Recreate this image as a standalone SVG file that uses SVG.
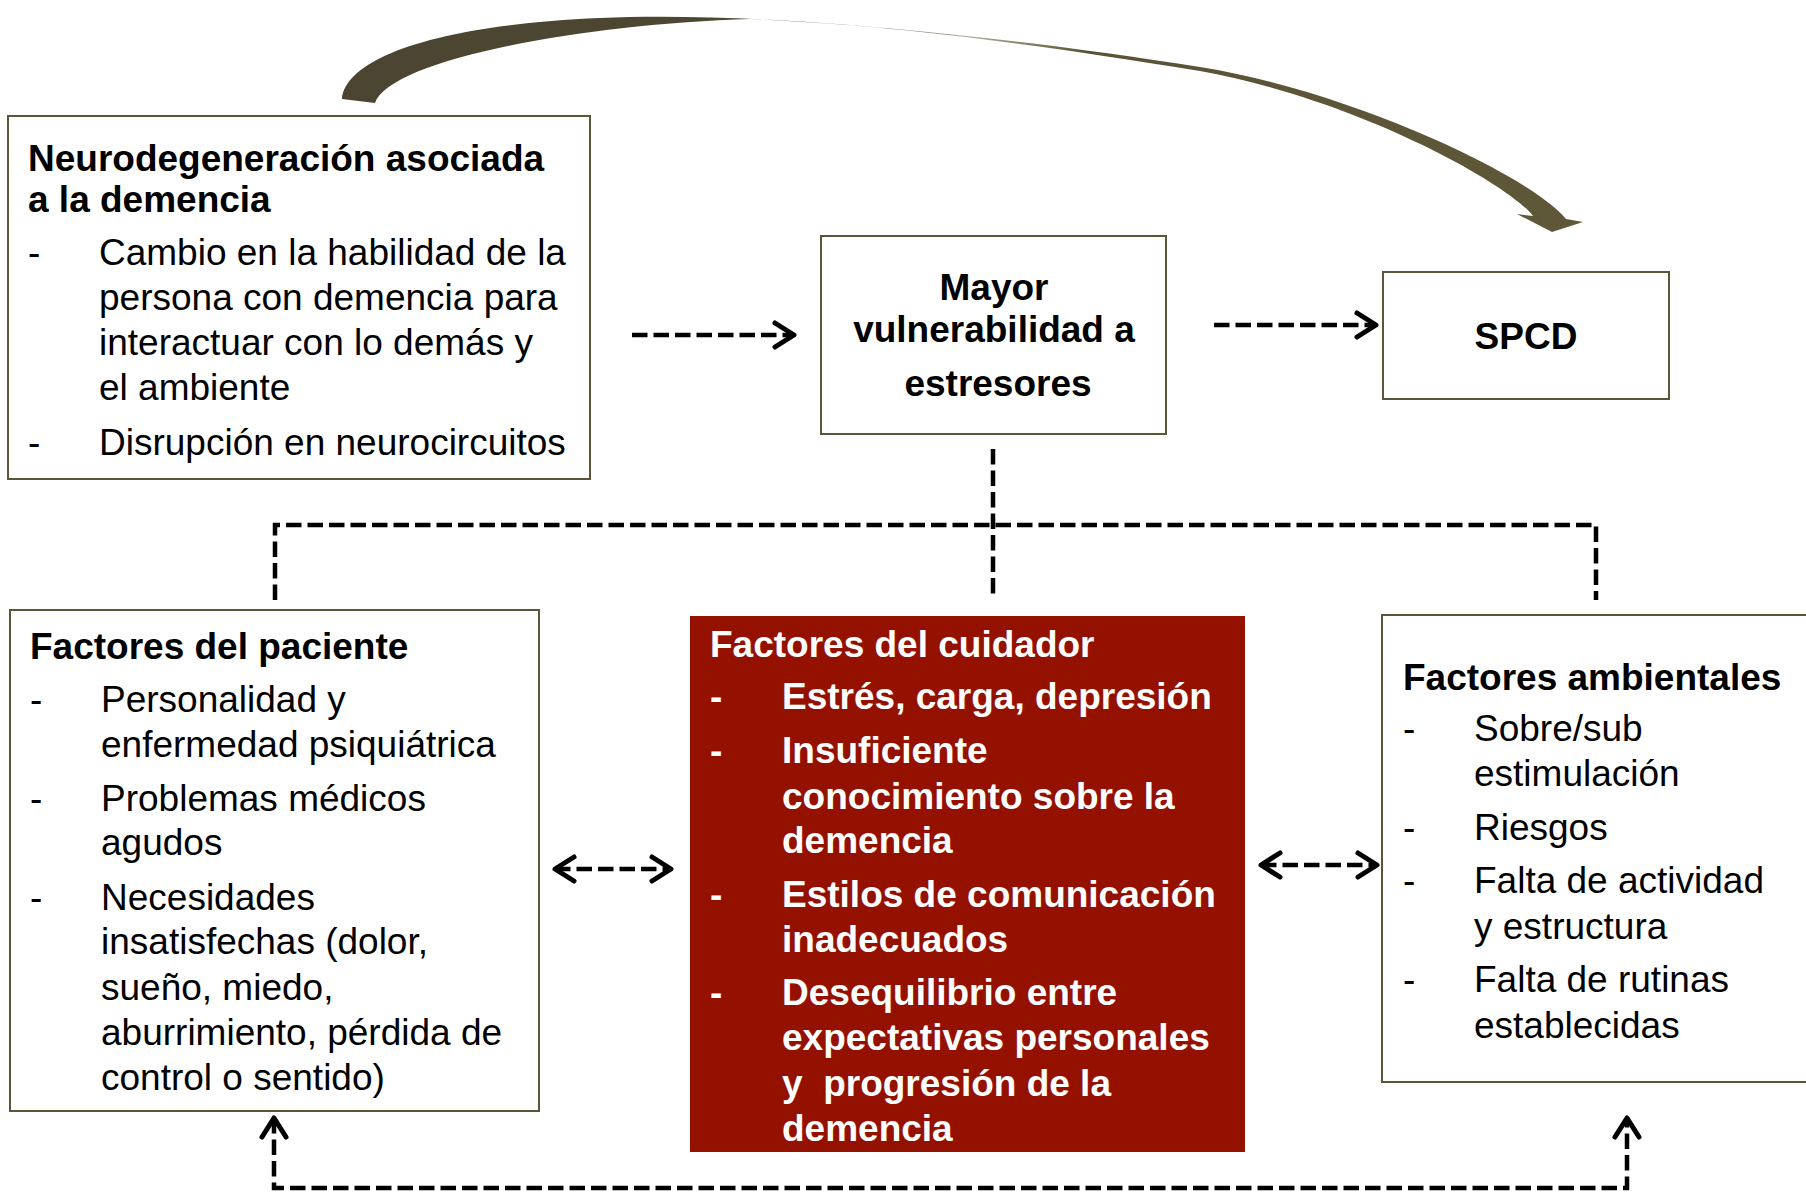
<svg xmlns="http://www.w3.org/2000/svg" width="1806" height="1192" viewBox="0 0 1806 1192">
<defs>
<style>
.box{fill:#ffffff;stroke:#5c5639;stroke-width:2}
.red{fill:#941100;stroke:none}
.t{font-family:"Liberation Sans",Arial,Helvetica,sans-serif;font-size:37px;fill:#000}
.b{font-weight:bold}
.w{fill:#ffffff;font-weight:bold}
.dash{fill:none;stroke:#000;stroke-width:4.5;stroke-dasharray:15.5 6}
</style>
<marker id="chev" viewBox="-26 -16 30 32" markerUnits="userSpaceOnUse" markerWidth="30" markerHeight="32" refX="0" refY="0" orient="auto-start-reverse">
<path d="M-19,-12 L0,0 L-19,12" fill="none" stroke="#000" stroke-width="5" stroke-linecap="round" stroke-linejoin="round" stroke-dasharray="none"/>
</marker>
<linearGradient id="cg" gradientUnits="userSpaceOnUse" x1="342" y1="0" x2="1583" y2="0">
<stop offset="0" stop-color="#4a4430"/>
<stop offset="0.40" stop-color="#4f4833"/>
<stop offset="0.50" stop-color="#b8b39f"/>
<stop offset="0.60" stop-color="#5a5337"/>
<stop offset="1" stop-color="#5e5738"/>
</linearGradient>
</defs>

<g id="connectors">
<path id="curved-arrow" fill="url(#cg)" d="M342,99 C345,60 430,25 600,18 C760,11 1000,35 1200,67 C1350,91 1530,175 1566,219 L1583,222 L1552,232 L1517,214 L1533,216 C1510,185 1360,100 1200,71 C1000,38 850,22 750,19 C580,24 390,60 375,103 Z"/>
<path class="dash" d="M632,335 L794,335" marker-end="url(#chev)"/>
<path class="dash" d="M1214,325 L1376,325" marker-end="url(#chev)"/>
<path class="dash" d="M993,449 L993,596"/>
<path class="dash" d="M275,600 L275,525 L1596,525 L1596,600"/>
<path class="dash" d="M555,869 L671,869" marker-start="url(#chev)" marker-end="url(#chev)"/>
<path class="dash" d="M1261,865 L1377,865" marker-start="url(#chev)" marker-end="url(#chev)"/>
<path class="dash" d="M274,1118 L274,1188 L1627,1188 L1627,1118" marker-start="url(#chev)" marker-end="url(#chev)"/>
</g>

<g id="node-neuro">
<rect class="box" x="8" y="116" width="582" height="363"/>
<text class="t b" x="28" y="171">Neurodegeneración asociada</text>
<text class="t b" x="28" y="212">a la demencia</text>
<text class="t" x="28" y="265">-</text>
<text class="t" x="99" y="265">Cambio en la habilidad de la</text>
<text class="t" x="99" y="310">persona con demencia para</text>
<text class="t" x="99" y="355">interactuar con lo demás y</text>
<text class="t" x="99" y="400">el ambiente</text>
<text class="t" x="28" y="455">-</text>
<text class="t" x="99" y="455">Disrupción en neurocircuitos</text>
</g>

<g id="node-vulnerabilidad">
<rect class="box" x="821" y="236" width="345" height="198"/>
<text class="t b" x="994" y="300" text-anchor="middle">Mayor</text>
<text class="t b" x="994" y="342" text-anchor="middle">vulnerabilidad a</text>
<text class="t b" x="998" y="396" text-anchor="middle">estresores</text>
</g>

<g id="node-spcd">
<rect class="box" x="1383" y="272" width="286" height="127"/>
<text class="t b" x="1526" y="349" text-anchor="middle">SPCD</text>
</g>

<g id="node-paciente">
<rect class="box" x="10" y="610" width="529" height="501"/>
<text class="t b" x="30" y="659">Factores del paciente</text>
<text class="t" x="30" y="712">-</text>
<text class="t" x="101" y="712">Personalidad y</text>
<text class="t" x="101" y="757">enfermedad psiquiátrica</text>
<text class="t" x="30" y="811">-</text>
<text class="t" x="101" y="811">Problemas médicos</text>
<text class="t" x="101" y="855">agudos</text>
<text class="t" x="30" y="910">-</text>
<text class="t" x="101" y="910">Necesidades</text>
<text class="t" x="101" y="954">insatisfechas (dolor,</text>
<text class="t" x="101" y="1000">sueño, miedo,</text>
<text class="t" x="101" y="1045">aburrimiento, pérdida de</text>
<text class="t" x="101" y="1090">control o sentido)</text>
</g>

<g id="node-cuidador">
<rect class="red" x="690" y="616" width="555" height="536"/>
<text class="t w" x="710" y="657">Factores del cuidador</text>
<text class="t w" x="710" y="709">-</text>
<text class="t w" x="782" y="709">Estrés, carga, depresión</text>
<text class="t w" x="710" y="763">-</text>
<text class="t w" x="782" y="763">Insuficiente</text>
<text class="t w" x="782" y="809">conocimiento sobre la</text>
<text class="t w" x="782" y="853">demencia</text>
<text class="t w" x="710" y="907">-</text>
<text class="t w" x="782" y="907">Estilos de comunicación</text>
<text class="t w" x="782" y="952">inadecuados</text>
<text class="t w" x="710" y="1005">-</text>
<text class="t w" x="782" y="1005">Desequilibrio entre</text>
<text class="t w" x="782" y="1050">expectativas personales</text>
<text class="t w" x="782" y="1096" xml:space="preserve">y  progresión de la</text>
<text class="t w" x="782" y="1141">demencia</text>
</g>

<g id="node-ambientales">
<rect class="box" x="1382" y="615" width="450" height="467"/>
<text class="t b" x="1403" y="690">Factores ambientales</text>
<text class="t" x="1403" y="741">-</text>
<text class="t" x="1474" y="741">Sobre/sub</text>
<text class="t" x="1474" y="786">estimulación</text>
<text class="t" x="1403" y="840">-</text>
<text class="t" x="1474" y="840">Riesgos</text>
<text class="t" x="1403" y="893">-</text>
<text class="t" x="1474" y="893">Falta de actividad</text>
<text class="t" x="1474" y="939">y estructura</text>
<text class="t" x="1403" y="992">-</text>
<text class="t" x="1474" y="992">Falta de rutinas</text>
<text class="t" x="1474" y="1038">establecidas</text>
</g>
</svg>
